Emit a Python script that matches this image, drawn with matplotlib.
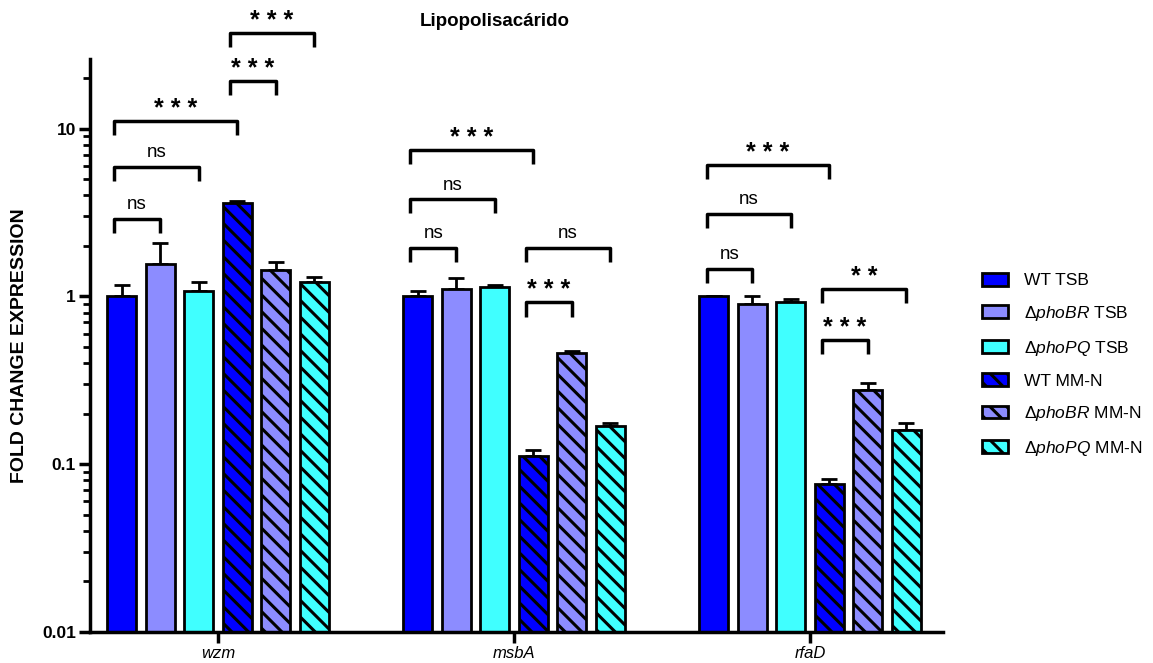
"""Lipopolisacarido fold change bar chart"""

import matplotlib

matplotlib.use("Agg")
import matplotlib.pyplot as plt
from matplotlib.patches import Patch
import numpy as np

plt.rcParams["font.family"] = ["Liberation Sans", "DejaVu Sans"]
plt.rcParams["mathtext.fontset"] = "custom"
plt.rcParams["mathtext.rm"] = "Liberation Sans"
plt.rcParams["mathtext.it"] = "Liberation Sans:italic"
plt.rcParams["hatch.linewidth"] = 2.2

# Data
genes = ["wzm", "msbA", "rfaD"]
strains = [
    "WT TSB",
    r"$\Delta\it{phoBR}$ TSB",
    r"$\Delta\it{phoPQ}$ TSB",
    "WT MM-N",
    r"$\Delta\it{phoBR}$ MM-N",
    r"$\Delta\it{phoPQ}$ MM-N",
]
colors = ["#0000FF", "#8C8CFF", "#40FFFF", "#0000FF", "#8C8CFF", "#40FFFF"]
hatched = [False, False, False, True, True, True]

wzm_mean = [1.00, 1.56, 1.08, 3.60, 1.44, 1.22]
wzm_top = [1.17, 2.08, 1.22, 3.68, 1.61, 1.31]
msba_mean = [1.00, 1.10, 1.14, 0.112, 0.46, 0.168]
msba_top = [1.07, 1.28, 1.17, 0.122, 0.475, 0.176]
rfad_mean = [1.00, 0.90, 0.92, 0.076, 0.275, 0.16]
rfad_top = [1.01, 1.01, 0.97, 0.082, 0.305, 0.177]

means = np.array([wzm_mean, msba_mean, rfad_mean])
tops = np.array([wzm_top, msba_top, rfad_top])

# significance brackets: (gene index, bar i, bar j, height, label)
brackets = [
    (0, 0, 1, 2.9, "ns"),
    (0, 0, 2, 5.9, "ns"),
    (0, 0, 3, 11.1, "***"),
    (0, 3, 4, 19.3, "***"),
    (0, 3, 5, 37.3, "***"),
    (1, 0, 3, 7.5, "***"),
    (1, 0, 2, 3.8, "ns"),
    (1, 0, 1, 1.95, "ns"),
    (1, 3, 5, 1.95, "ns"),
    (1, 3, 4, 0.92, "***"),
    (2, 0, 3, 6.1, "***"),
    (2, 0, 2, 3.1, "ns"),
    (2, 0, 1, 1.46, "ns"),
    (2, 3, 5, 1.11, "**"),
    (2, 3, 4, 0.55, "***"),
]

step = 0.130
width = 0.098

fig = plt.figure(figsize=(11.53, 6.63), dpi=100)
ax = fig.add_axes([0.078, 0.047, 0.740, 0.864])

x_groups = np.arange(len(genes))
for k in range(len(strains)):
    xs = x_groups + (k - 2.5) * step
    ax.bar(
        xs,
        means[:, k],
        width=width,
        color=colors[k],
        edgecolor="black",
        linewidth=2,
        hatch="\\\\" if hatched[k] else None,
        zorder=2,
    )
    err = tops[:, k] - means[:, k]
    ax.errorbar(
        xs,
        means[:, k],
        yerr=[np.zeros_like(err), err],
        fmt="none",
        ecolor="black",
        elinewidth=2,
        capsize=6,
        capthick=2,
        zorder=1,
    )

leg_drop = 10 ** -0.085
for g, i, j, h, label in brackets:
    x1 = g + (i - 2.5) * step - 0.025
    x2 = g + (j - 2.5) * step
    ax.plot(
        [x1, x1, x2, x2],
        [h * leg_drop, h, h, h * leg_drop],
        color="black",
        linewidth=2.5,
        clip_on=False,
        solid_capstyle="butt",
        zorder=3,
    )
    if label == "ns":
        ax.annotate(label, ((x1 + x2) / 2, h), xytext=(0, 4), textcoords="offset points",
                    ha="center", va="bottom", fontsize=13.5, annotation_clip=False)
    else:
        ax.annotate(" ".join(label), ((x1 + x2) / 2, h), xytext=(0, 0), textcoords="offset points",
                    ha="center", va="bottom", fontsize=18, fontweight="bold",
                    annotation_clip=False)

ax.set_yscale("log")
ax.set_ylim(0.01, 26)
ax.set_xlim(-0.432, 2.449)
ax.set_xticks(x_groups)
ax.set_xticklabels(genes, style="italic", fontsize=12)
ax.set_yticks([0.01, 0.1, 1, 10])
ax.set_yticklabels(["0.01", "0.1", "1", "10"], fontweight="bold", fontsize=12.5)

for side in ["top", "right"]:
    ax.spines[side].set_visible(False)
for side in ["left", "bottom"]:
    ax.spines[side].set_linewidth(2.5)
ax.tick_params(axis="both", which="major", length=8, width=2.5, pad=2)
ax.tick_params(axis="y", which="minor", length=5, width=2)

ax.set_ylabel("FOLD CHANGE EXPRESSION", fontsize=14, fontweight="bold", labelpad=10)

fig.text(0.429, 0.967, "Lipopolisacárido", ha="center", va="center",
         fontsize=13.5, fontweight="bold")

handles = [
    Patch(facecolor=c, edgecolor="black", linewidth=2, hatch="\\\\" if h else None)
    for c, h in zip(colors, hatched)
]
fig.legend(
    handles,
    strains,
    loc="upper left",
    bbox_to_anchor=(0.838, 0.612),
    frameon=False,
    fontsize=12.5,
    handlelength=1.5,
    handleheight=0.75,
    handletextpad=0.9,
    labelspacing=0.9,
)

plt.savefig("out.png", dpi=100)
plt.close()
